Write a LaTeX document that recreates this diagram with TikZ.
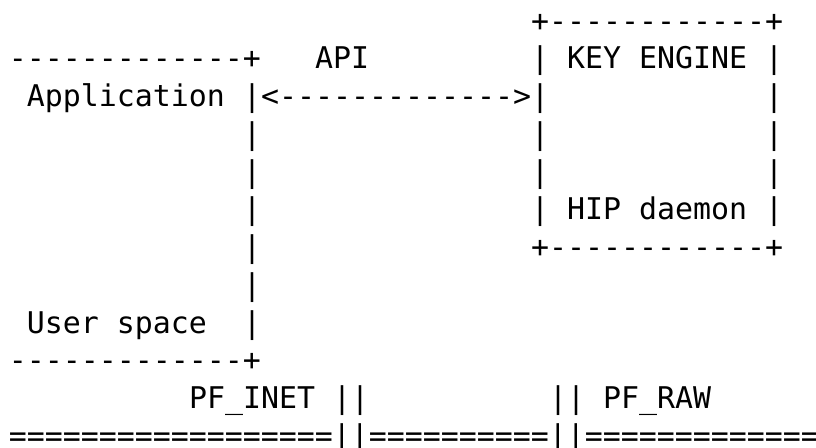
\documentclass[tikz,border=0pt]{standalone}
\usepackage{fontspec}
\setmonofont{DejaVu Sans Mono}
\begin{document}
\begin{tikzpicture}[x=1pt,y=-1pt,
  asc/.style={anchor=base west,inner sep=0pt,outer sep=0pt,
    font=\ttfamily\fontsize{29.9pt}{30pt}\selectfont,text=black}]
\useasboundingbox[fill=white] (0,0) rectangle (816,447);
\newcommand{\colx}[1]{9+18*#1}
\newcommand{\rowy}[1]{31+37.75*#1}
% row 0
\node[asc] (boxtop) at ({\colx{29}},{\rowy{0}}) {+------------+};
% row 1
\node[asc] (usertop) at ({\colx{0}},{\rowy{1}}) {-------------+};
\node[asc] (api) at ({\colx{17}},{\rowy{1}}) {API};
\node[asc] (keyengine) at ({\colx{29}},{\rowy{1}}) {| KEY ENGINE |};
% row 2
\node[asc] (application) at ({\colx{1}},{\rowy{2}}) {Application};
\node[asc] (arrow) at ({\colx{13}},{\rowy{2}}) {|<------------->|};
\node[asc] (r2r) at ({\colx{42}},{\rowy{2}}) {|};
% rows 3-4
\foreach \r in {3,4}{
  \node[asc] (l\r) at ({\colx{13}},{\rowy{\r}}) {|};
  \node[asc] (m\r) at ({\colx{29}},{\rowy{\r}}) {|};
  \node[asc] (rr\r) at ({\colx{42}},{\rowy{\r}}) {|};
}
% row 5
\node[asc] (l5) at ({\colx{13}},{\rowy{5}}) {|};
\node[asc] (hip) at ({\colx{29}},{\rowy{5}}) {| HIP daemon |};
% row 6
\node[asc] (l6) at ({\colx{13}},{\rowy{6}}) {|};
\node[asc] (boxbot) at ({\colx{29}},{\rowy{6}}) {+------------+};
% row 7
\node[asc] (l7) at ({\colx{13}},{\rowy{7}}) {|};
% row 8
\node[asc] (userspace) at ({\colx{1}},{\rowy{8}}) {User space};
\node[asc] (l8) at ({\colx{13}},{\rowy{8}}) {|};
% row 9
\node[asc] (userbot) at ({\colx{0}},{\rowy{9}}) {-------------+};
% row 10
\node[asc] (pfinet) at ({\colx{10}},{\rowy{10}}) {PF\_INET ||};
\node[asc] (pfraw) at ({\colx{30}},{\rowy{10}}) {|| PF\_RAW};
% row 11
\node[asc] (kernel) at ({\colx{0}},{\rowy{11}}) {==================||==========||=============};
\end{tikzpicture}
\end{document}
